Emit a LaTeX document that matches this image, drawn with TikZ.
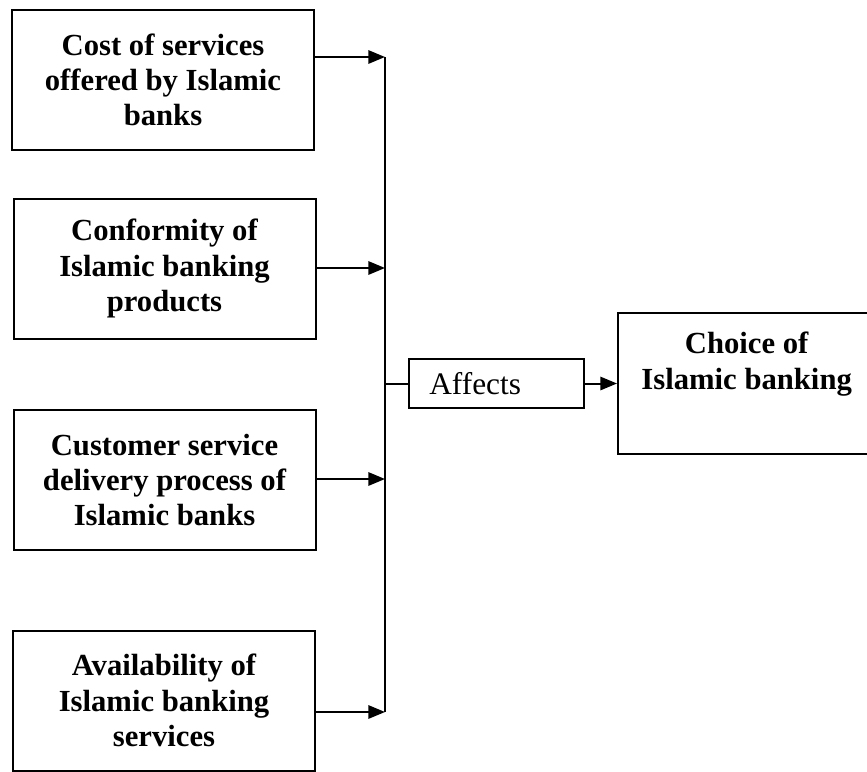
\documentclass[tikz,border=0pt]{standalone}
\usepackage{fontspec}
\setmainfont{Liberation Serif}
\usetikzlibrary{arrows.meta}
\begin{document}
\begin{tikzpicture}[x=0.75pt,y=-0.75pt,
  box/.style={draw,line width=1.5pt,rectangle,inner sep=0pt,align=center,
    minimum width=226.5pt,minimum height=105pt,
    font=\fontsize{23}{26.5}\selectfont\bfseries},
  arr/.style={line width=1.5pt,-{Triangle[length=12.5pt,width=10pt]}},
  ln/.style={line width=1.5pt}]
\useasboundingbox (0,0) rectangle (867,771);
\node[box] (b1) at (163,80) {Cost of services\\offered by Islamic\\banks};
\node[box] (b2) at (164.5,268.5) {Conformity of\\Islamic banking\\products};
\node[box] (b3) at (164.5,480) {Customer service\\delivery process of\\Islamic banks};
\node[box] (b4) at (164,700.5) {Availability of\\Islamic banking\\services};
\node[draw,line width=1.5pt,minimum width=131.25pt,minimum height=36.75pt,inner sep=0pt,
  font=\fontsize{23.5}{27}\selectfont] (aff) at (496.5,383.5) {Affects\mbox{\hspace{32pt}}};
\node[box,minimum width=189pt,minimum height=105.75pt] (ch) at (744,383.5)
  {\mbox{\hspace{4pt}}Choice of\\\mbox{\hspace{4pt}}Islamic banking\\[7.5pt]\mbox{}};
\coordinate (j1) at (385,57);
\coordinate (j2) at (385,268);
\coordinate (j3) at (385,479);
\coordinate (j4) at (385,712);
\coordinate (jm) at (385,383.5);
\draw[ln] (j1) -- (j4);
\draw[arr] (b1.east |- j1) -- (j1);
\draw[arr] (b2.east |- j2) -- (j2);
\draw[arr] (b3.east |- j3) -- (j3);
\draw[arr] (b4.east |- j4) -- (j4);
\draw[ln] (jm) -- (aff.west);
\draw[arr] (aff.east) -- (ch.west);
\end{tikzpicture}
\end{document}
